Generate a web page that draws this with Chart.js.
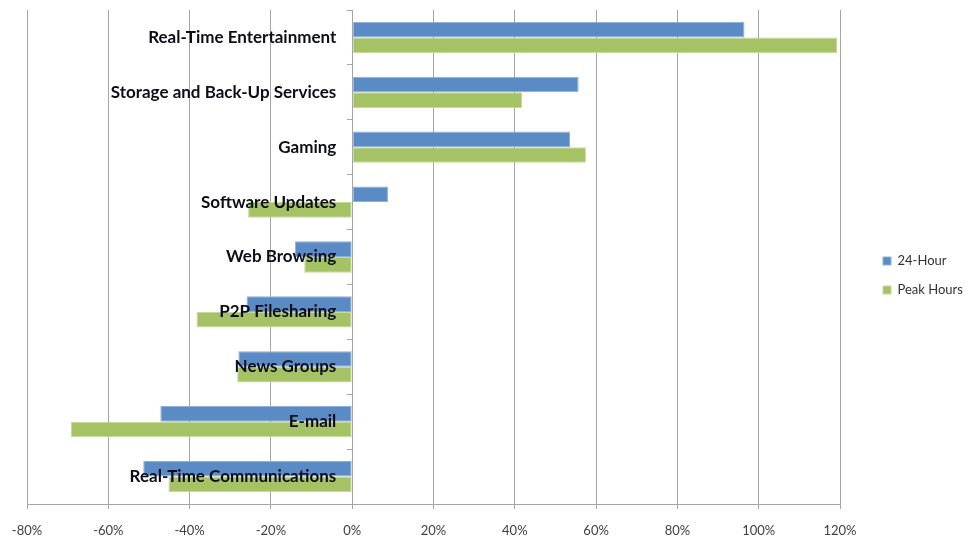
<!DOCTYPE html>
<html>
<head>
<meta charset="utf-8">
<script src="https://cdn.jsdelivr.net/npm/chart.js@4.4.0/dist/chart.umd.min.js"></script>
<style>
  html, body { margin: 0; padding: 0; background: #ffffff; }
  #wrap { width: 976px; height: 539px; position: relative; }
</style>
</head>
<body>
<div id="wrap"><canvas id="c" width="976" height="539"></canvas></div>
<script>
const categories = [
  "Real-Time Entertainment",
  "Storage and Back-Up Services",
  "Gaming",
  "Software Updates",
  "Web Browsing",
  "P2P Filesharing",
  "News Groups",
  "E-mail",
  "Real-Time Communications"
];
const hour24 = [96.5, 55.7, 53.6, 8.8, -14.1, -26.0, -28.0, -47.2, -51.4];
const peakHours = [119.3, 41.8, 57.5, -25.6, -11.8, -38.3, -28.3, -69.2, -45.2];
const xTicks = [-80, -60, -40, -20, 0, 20, 40, 60, 80, 100, 120];

const FONT = "Lato, 'Open Sans', 'Liberation Sans', sans-serif";
const GRID = '#A6A6A6';

function yPad(s) { s.paddingTop = 10; s.paddingBottom = 0; }

const legendShift = {
  id: 'legendShift',
  afterLayout(chart) {
    const lg = chart.legend;
    if (!lg) return;
    lg.left += 27; lg.right += 27;
    lg.top += 6; lg.bottom += 6;
  }
};

new Chart(document.getElementById('c'), {
  type: 'bar',
  data: {
    labels: categories,
    datasets: [
      { label: '24-Hour', data: hour24, backgroundColor: '#5B8BC5', borderColor: '#8FB0DA', borderWidth: 1, borderSkipped: false },
      { label: 'Peak Hours', data: peakHours, backgroundColor: '#A5C264', borderColor: '#C6DA9A', borderWidth: 1, borderSkipped: false }
    ]
  },
  plugins: [legendShift],
  options: {
    indexAxis: 'y',
    responsive: false,
    animation: false,
    devicePixelRatio: 1,
    layout: { padding: 0 },
    datasets: { bar: { categoryPercentage: 0.57, barPercentage: 1.0 } },
    plugins: {
      tooltip: { enabled: false },
      legend: {
        position: 'right',
        labels: {
          boxWidth: 8, boxHeight: 8, padding: 16,
          color: '#333333',
          font: { family: FONT, size: 13 }
        }
      }
    },
    scales: {
      x: {
        type: 'linear',
        min: -80, max: 120,
        afterBuildTicks: (s) => { s.ticks = xTicks.map(v => ({ value: v })); },
        afterFit: (s) => { s.paddingLeft = 27; s.paddingRight = 136; s.height = 35; },
        grid: { color: GRID, lineWidth: 1, drawTicks: true, tickLength: 5, tickColor: GRID },
        border: { color: GRID, width: 1 },
        ticks: {
          color: '#404040', padding: 14,
          font: { family: FONT, size: 13 },
          callback: (v) => v + '%'
        }
      },
      y: {
        type: 'category',
        position: { x: -3.9 },
        afterFit: yPad,
        grid: { display: false, drawTicks: false },
        border: { display: false },
        ticks: {
          z: 1,
          color: '#0d0d1a', padding: 0,
          font: { family: FONT, size: 17, weight: 'bold' }
        }
      },
      y2: {
        type: 'category',
        labels: categories,
        position: { x: 0 },
        afterFit: yPad,
        grid: { offset: true, drawOnChartArea: false, drawTicks: true, tickLength: 5, tickColor: GRID },
        border: { color: GRID, width: 1 },
        ticks: { display: false }
      }
    }
  }
});
</script>
</body>
</html>
